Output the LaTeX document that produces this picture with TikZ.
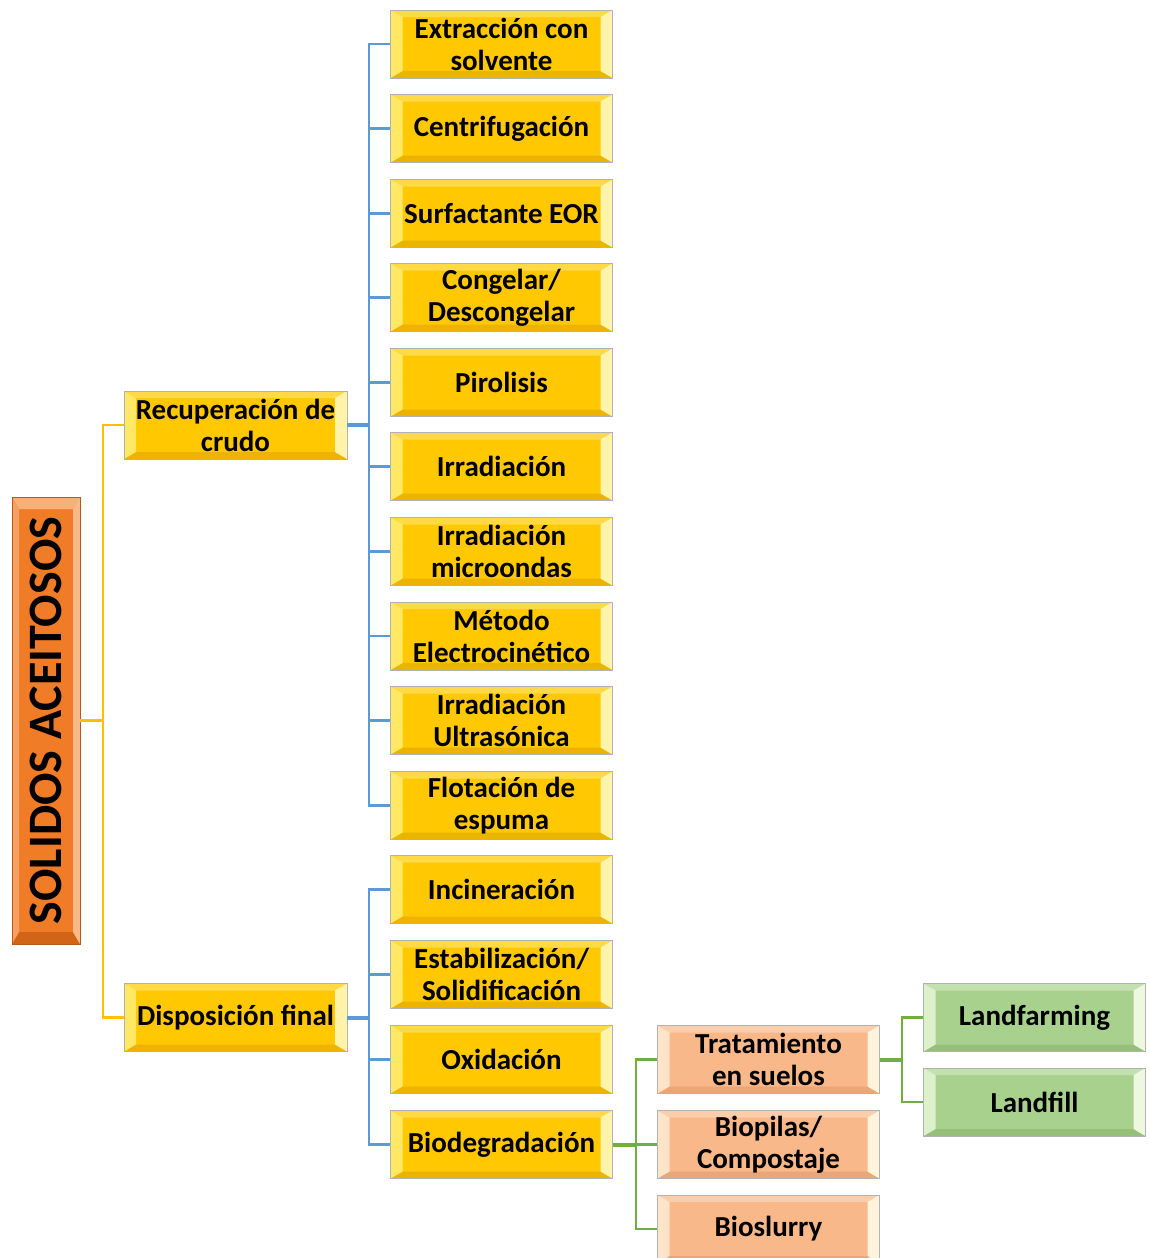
\documentclass[tikz,border=0pt]{standalone}
\usepackage{fontspec}
\setmainfont{Carlito}
\definecolor{yline}{HTML}{FFC000}
\definecolor{bline}{HTML}{5B9BD5}
\definecolor{gline}{HTML}{70AD47}
\definecolor{yfill}{RGB}{255,200,0}
\definecolor{ytop}{RGB}{255,218,70}
\definecolor{ybot}{RGB}{236,180,0}
\definecolor{yleft}{RGB}{255,232,100}
\definecolor{yright}{RGB}{255,244,170}
\definecolor{ofill}{RGB}{248,184,138}
\definecolor{otop}{RGB}{251,205,170}
\definecolor{obot}{RGB}{234,165,120}
\definecolor{oleft}{RGB}{253,227,200}
\definecolor{oright}{RGB}{255,243,220}
\definecolor{gfill}{RGB}{169,209,142}
\definecolor{gtop}{RGB}{195,225,174}
\definecolor{gbot}{RGB}{150,192,122}
\definecolor{gleft}{RGB}{221,240,204}
\definecolor{gright}{RGB}{238,248,224}
\definecolor{rdraw}{RGB}{180,90,30}
\definecolor{rfill}{RGB}{240,124,40}
\definecolor{rtop}{RGB}{246,176,122}
\definecolor{rbot}{RGB}{210,100,24}
\definecolor{rleft}{RGB}{245,160,96}
\definecolor{rright}{RGB}{248,184,136}
\tikzset{
 bevx/.store in=\bevx, bevy/.store in=\bevy,
 ctop/.store in=\ctop, cbot/.store in=\cbot, cleft/.store in=\cleft, cright/.store in=\cright,
 bevx=12pt, bevy=7pt,
 bevbox/.style={draw=black!30, line width=0.8pt, font=\bfseries\fontsize{29}{32}\selectfont,
   align=center, inner sep=0pt, minimum width=222pt, minimum height=68pt,
   path picture={
     \coordinate (SW) at (path picture bounding box.south west);
     \coordinate (NE) at (path picture bounding box.north east);
     \coordinate (NW) at (SW|-NE);
     \coordinate (SE) at (NE|-SW);
     \coordinate (iSW) at ([shift={(\bevx,\bevy)}]SW);
     \coordinate (iNE) at ([shift={(-\bevx,-\bevy)}]NE);
     \coordinate (iNW) at ([shift={(\bevx,-\bevy)}]NW);
     \coordinate (iSE) at ([shift={(-\bevx,\bevy)}]SE);
     \fill[fill=\ctop] (NW) -- (NE) -- (iNE) -- (iNW) -- cycle;
     \fill[fill=\cbot] (SW) -- (SE) -- (iSE) -- (iSW) -- cycle;
     \fill[fill=\cleft] (NW) -- (iNW) -- (iSW) -- (SW) -- cycle;
     \fill[fill=\cright] (NE) -- (iNE) -- (iSE) -- (SE) -- cycle;
   }},
 ybox/.style={bevbox, fill=yfill, ctop=ytop, cbot=ybot, cleft=yleft, cright=yright},
 obox/.style={bevbox, fill=ofill, ctop=otop, cbot=obot, cleft=oleft, cright=oright},
 gbox/.style={bevbox, fill=gfill, ctop=gtop, cbot=gbot, cleft=gleft, cright=gright},
 rbox/.style={bevbox, draw=rdraw, fill=rfill, ctop=rtop, cbot=rbot, cleft=rleft, cright=rright,
   bevx=7pt, bevy=12pt, minimum width=68pt, minimum height=447pt},
 yl/.style={draw=yline, line width=2.4pt},
 bl/.style={draw=bline, line width=2.4pt},
 blt/.style={draw=bline, line width=4pt},
 gl/.style={draw=gline, line width=2.4pt},
 glt/.style={draw=gline, line width=4pt},
}
\begin{document}
\begin{tikzpicture}[x=1pt,y=-1pt]
\useasboundingbox (0,0) rectangle (1150,1258);
% root
\node[rbox] (root) at (46,720.5) {\rotatebox{90}{\fontsize{48}{54}\selectfont SOLIDOS ACEITOSOS}};
% level 1
\node[ybox, minimum width=223pt] (rec) at (235.5,425) {Recuperación de\\crudo};
\node[ybox, minimum width=223pt] (dis) at (235.5,1017.5) {Disposición final};
% level 2
\node[ybox] (c1) at (501.5,44) {Extracción con\\solvente};
\node[ybox] (c2) at (501.5,128.5) {Centrifugación};
\node[ybox] (c3) at (501.5,213.5) {Surfactante EOR};
\node[ybox] (c4) at (501.5,297.5) {Congelar/\\Descongelar};
\node[ybox] (c5) at (501.5,382.5) {Pirolisis};
\node[ybox] (c6) at (501.5,466.5) {Irradiación};
\node[ybox] (c7) at (501.5,551.5) {Irradiación\\microondas};
\node[ybox] (c8) at (501.5,636) {Método\\Electrocinético};
\node[ybox] (c9) at (501.5,720.5) {Irradiación\\Ultrasónica};
\node[ybox] (c10) at (501.5,805.5) {Flotación de\\espuma};
\node[ybox] (d1) at (501.5,889.5) {Incineración};
\node[ybox] (d2) at (501.5,974.5) {Estabilización/\\Solidificación};
\node[ybox] (d3) at (501.5,1059.5) {Oxidación};
\node[ybox] (d4) at (501.5,1144.5) {Biodegradación};
% level 3
\node[obox] (b1) at (768.5,1059.5) {Tratamiento\\en suelos};
\node[obox] (b2) at (768.5,1144.5) {Biopilas/\\Compostaje};
\node[obox] (b3) at (768.5,1229) {Bioslurry};
% level 4
\node[gbox] (t1) at (1034.5,1017.5) {Landfarming};
\node[gbox] (t2) at (1034.5,1102) {Landfill};
% connectors
\coordinate (yb) at (103,720.5);
\draw[yl] (root.east) -- (yb);
\draw[yl] (rec.west) -| (yb) |- (dis.west);
\coordinate (bb1) at (369,425);
\draw[blt] (rec.east) -- (bb1);
\foreach \n in {c1,c2,c3,c4,c5,c6,c7,c8,c9,c10} \draw[bl] (bb1) |- (\n.west);
\coordinate (bb2) at (369,1017.5);
\draw[blt] (dis.east) -- (bb2);
\foreach \n in {d1,d2,d3,d4} \draw[bl] (bb2) |- (\n.west);
\coordinate (gb1) at (636,1144.5);
\draw[glt] (d4.east) -- (gb1);
\foreach \n in {b1,b2,b3} \draw[gl] (gb1) |- (\n.west);
\coordinate (gb2) at (902,1059.5);
\draw[glt] (b1.east) -- (gb2);
\foreach \n in {t1,t2} \draw[gl] (gb2) |- (\n.west);
\end{tikzpicture}
\end{document}
